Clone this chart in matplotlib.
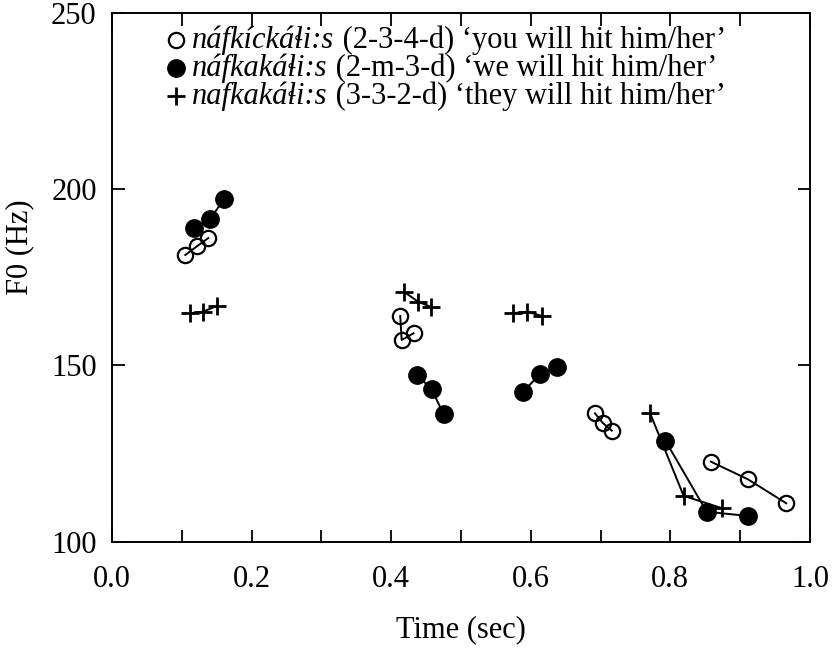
import matplotlib
matplotlib.use("Agg")
import matplotlib.pyplot as plt
from matplotlib.ticker import MultipleLocator

plt.rcParams['font.family'] = ['Liberation Serif', 'DejaVu Serif']

# F0 contours, one list per syllable segment (time in sec, F0 in Hz)
open_t = [[0.105, 0.122, 0.138], [0.413, 0.415, 0.432],
          [0.692, 0.703, 0.716], [0.858, 0.911, 0.966]]
open_f = [[181.3, 183.8, 186.1], [164.0, 157.2, 159.1],
          [136.4, 133.7, 131.5], [122.7, 117.7, 110.9]]

filled_t = [[0.117, 0.140, 0.161], [0.437, 0.458, 0.475],
            [0.589, 0.613, 0.637], [0.793, 0.852, 0.911]]
filled_f = [[189.0, 191.4, 197.2], [147.3, 143.2, 136.2],
            [142.5, 147.5, 149.4], [128.6, 108.5, 107.3]]

plus_t = [[0.112, 0.130, 0.150], [0.418, 0.439, 0.457],
          [0.574, 0.595, 0.616], [0.771, 0.819, 0.874]]
plus_f = [[164.8, 165.2, 166.8], [170.9, 168.0, 166.6],
          [164.8, 165.2, 164.0], [136.4, 113.0, 109.5]]

words = ['náfkíckáɬi:s', 'náfkakáɬi:s', 'nafkakáɬi:s']
glosses = [' (2-3-4-d) ‘you will hit him/her’',
           ' (2-m-3-d) ‘we will hit him/her’',
           ' (3-3-2-d) ‘they will hit him/her’']

FS = 22
fig = plt.figure(figsize=(8.37, 6.51), dpi=100)
ax = fig.add_axes([0.1338, 0.1679, 0.8339, 0.8126])

styles = [
    dict(marker='o', ms=11, mfc='none', mec='black', mew=1.6),
    dict(marker='o', ms=12.5, mfc='black', mec='black', mew=1.0),
    dict(marker='+', ms=12.5, mec='black', mew=2.0),
]
series = [(open_t, open_f), (filled_t, filled_f), (plus_t, plus_f)]

for (ts, fs), st in zip(series, styles):
    for t, f in zip(ts, fs):
        ax.plot(t, f, color='black', lw=1.4, **st)

# legend drawn by hand: italic word followed by roman gloss
rows_y = [0.948, 0.895, 0.842]
for st, w, g, y in zip(styles, words, glosses, rows_y):
    ax.plot([0.091], [y], transform=ax.transAxes, clip_on=False,
            color='black', ls='none', **st)
    t1 = ax.text(0.115, y, w, transform=ax.transAxes, fontsize=FS,
                 style='italic', va='center', ha='left')
    ax.annotate(g, xy=(1, 0), xycoords=t1, fontsize=FS,
                va='bottom', ha='left')

ax.set_xlim(0, 1.0)
ax.set_ylim(100, 250)
ax.xaxis.set_major_locator(MultipleLocator(0.2))
ax.xaxis.set_minor_locator(MultipleLocator(0.1))
ax.yaxis.set_major_locator(MultipleLocator(50))
ax.set_xticklabels([f'{v:.1f}' for v in ax.get_xticks()])

ax.tick_params(which='both', direction='in', top=True, right=True,
               length=9, width=1.3, labelsize=FS)
ax.tick_params(axis='x', pad=17)
ax.tick_params(axis='y', pad=11)
for s in ax.spines.values():
    s.set_linewidth(1.4)

ax.set_xlabel('Time (sec)', fontsize=FS, labelpad=15)
ax.set_ylabel('F0 (Hz)', fontsize=FS)
ax.yaxis.set_label_coords(-0.112, 0.557)

fig.savefig('out.png', dpi=100)
